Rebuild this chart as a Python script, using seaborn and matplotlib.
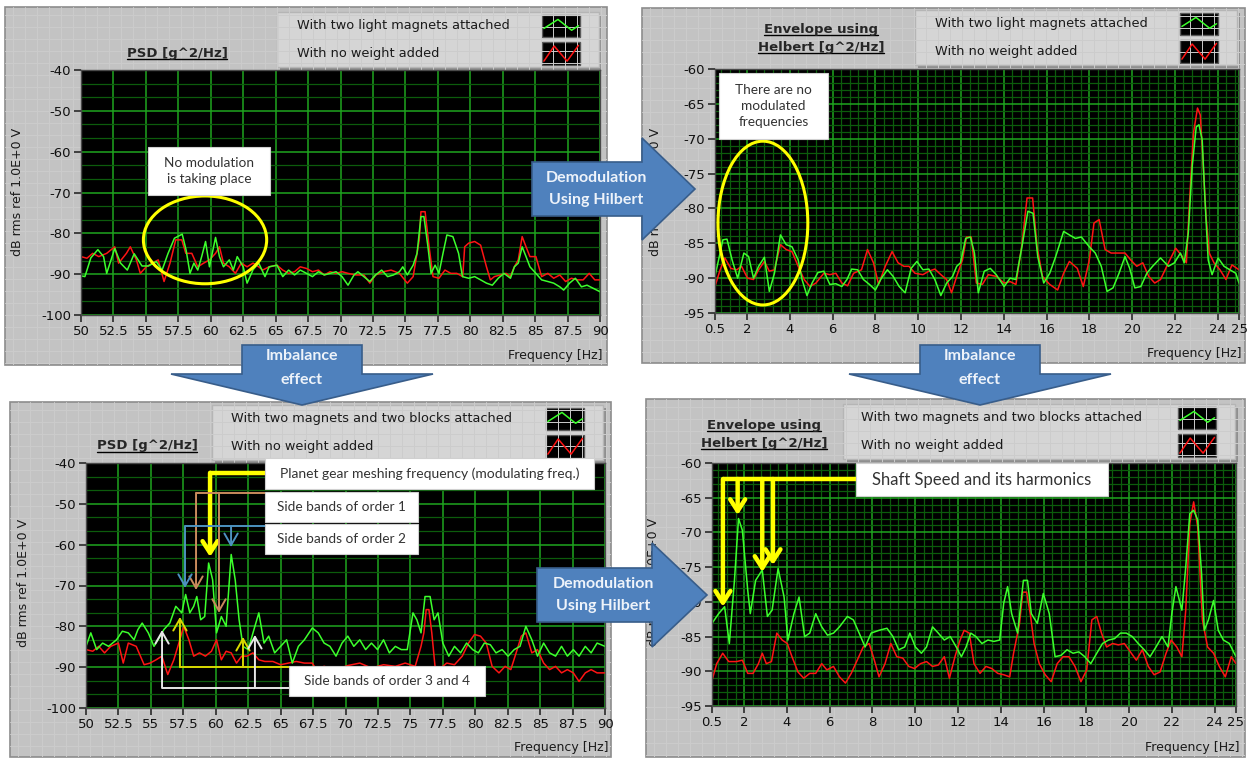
import matplotlib
matplotlib.use("Agg")
import matplotlib.pyplot as plt
import seaborn as sns
import pandas as pd
import numpy as np
from matplotlib.patches import Rectangle, Polygon, Ellipse

# ---------------- data (frequency [Hz], level [dB]) ----------------
# top-left: PSD, two light magnets vs no weight
p1_green = [(50.0, -90.4), (50.3, -90.6), (50.76, -86.0), (51.3, -84.0), (51.74, -85.7), (51.98, -89.8),
            (52.6, -83.7), (53.05, -87.3), (53.57, -89.0), (54.1, -85.0), (54.7, -88.0), (55.2, -88.0),
            (55.8, -86.9), (56.25, -89.0), (56.7, -85.0), (57.2, -81.2), (57.8, -80.2), (58.1, -84.1),
            (58.4, -89.8), (58.7, -87.3), (59.0, -89.0), (59.3, -85.7), (59.6, -82.0), (59.9, -88.2),
            (60.37, -81.0), (60.67, -85.7), (60.98, -88.2), (61.43, -86.5), (61.74, -89.0), (62.04, -85.7),
            (62.5, -88.2), (62.8, -92.2), (63.26, -88.9), (63.7, -87.3), (64.18, -90.6), (64.5, -88.2),
            (65.1, -87.8), (65.55, -90.6), (66.0, -89.0), (66.46, -90.2), (66.9, -89.0), (67.38, -89.8),
            (67.84, -90.6), (68.3, -89.4), (68.75, -90.2), (69.2, -89.8), (69.66, -89.4), (70.12, -90.6),
            (70.58, -92.7), (71.04, -90.2), (71.34, -89.4), (71.8, -90.6), (72.26, -91.8), (72.7, -90.2),
            (73.17, -89.0), (73.63, -90.6), (74.08, -90.2), (74.54, -89.4), (74.8, -88.2), (75.15, -90.2),
            (75.6, -87.8), (75.9, -84.9), (76.2, -75.9), (76.43, -75.9), (76.74, -83.3), (76.98, -89.8),
            (77.29, -87.8), (77.59, -89.8), (77.9, -84.9), (78.2, -80.4), (78.66, -80.8), (79.1, -84.9),
            (79.4, -90.6), (79.88, -91.0), (80.34, -90.6), (80.8, -91.4), (81.25, -92.2), (81.7, -92.7),
            (82.16, -91.0), (82.6, -89.8), (83.1, -91.0), (83.4, -88.2), (83.7, -87.3), (84.0, -83.3),
            (84.3, -85.7), (84.6, -88.2), (85.06, -89.8), (85.5, -91.4), (85.98, -91.8), (86.43, -92.2),
            (86.9, -93.1), (87.2, -93.9), (87.65, -92.2), (88.1, -91.0), (88.57, -93.1), (89.0, -92.7),
            (89.5, -93.5), (90.0, -94.3)]
p1_red = [(50.0, -85.7), (50.46, -86.1), (50.9, -84.9), (51.37, -85.7), (51.98, -84.9), (52.6, -83.3),
          (52.9, -87.3), (53.5, -84.9), (53.8, -83.3), (54.27, -86.5), (54.57, -89.8), (55.03, -88.2),
          (55.5, -87.3), (55.95, -86.5), (56.4, -91.8), (56.86, -87.3), (57.3, -81.6), (57.77, -81.6),
          (58.08, -84.9), (58.54, -84.9), (59.0, -88.2), (59.45, -87.3), (59.9, -86.5), (60.37, -84.9),
          (60.67, -83.3), (60.98, -87.3), (61.43, -88.2), (61.9, -89.8), (62.35, -87.3), (62.8, -88.2),
          (63.26, -87.3), (63.7, -88.2), (64.0, -89.0), (64.5, -88.2), (65.1, -87.8), (65.55, -89.0),
          (66.0, -89.8), (66.46, -89.4), (66.9, -88.2), (67.38, -88.6), (67.84, -89.4), (68.3, -89.0),
          (68.75, -90.2), (69.2, -89.4), (69.66, -89.8), (70.12, -89.4), (70.58, -89.8), (71.2, -90.2),
          (71.8, -90.2), (72.26, -92.2), (72.7, -90.2), (73.3, -89.4), (73.9, -89.0), (74.54, -89.8),
          (75.15, -92.2), (75.6, -90.6), (76.07, -81.6), (76.2, -74.7), (76.52, -74.7), (76.83, -83.3),
          (77.13, -90.6), (77.59, -91.0), (78.05, -89.0), (78.5, -89.8), (78.96, -89.8), (79.42, -90.6),
          (79.57, -83.3), (79.88, -82.4), (80.34, -82.0), (80.8, -82.9), (81.25, -88.2), (81.55, -91.4),
          (81.86, -90.6), (82.3, -90.2), (82.77, -89.8), (83.08, -90.6), (83.4, -88.2), (83.7, -86.5),
          (84.0, -80.8), (84.3, -83.3), (84.6, -85.7), (85.06, -85.7), (85.5, -90.6), (85.98, -89.8),
          (86.43, -91.0), (86.9, -90.2), (87.35, -91.8), (87.8, -91.0), (88.26, -91.4), (88.7, -91.4),
          (89.17, -89.8), (89.6, -91.4), (90.0, -91.4)]

# top-right: Hilbert envelope, two light magnets vs no weight
p2_green = [(0.5, -89.75), (0.87, -84.5), (1.06, -84.4), (1.3, -87.4), (1.56, -90.0), (1.85, -86.4),
            (2.07, -86.9), (2.3, -90.0), (2.54, -88.3), (2.81, -87.0), (3.04, -91.9), (3.28, -89.3),
            (3.56, -83.8), (3.83, -85.2), (4.1, -85.5), (4.39, -87.4), (4.57, -90.2), (4.8, -92.5),
            (5.04, -90.7), (5.31, -89.2), (5.59, -89.0), (5.87, -90.9), (6.15, -90.8), (6.43, -91.2),
            (6.67, -90.2), (6.89, -88.7), (7.17, -88.8), (7.44, -90.2), (7.72, -90.9), (8.0, -91.7),
            (8.28, -90.0), (8.56, -88.8), (8.83, -89.75), (9.11, -91.2), (9.39, -92.1), (9.67, -88.6),
            (9.94, -87.6), (10.22, -88.8), (10.5, -88.7), (10.78, -90.2), (11.06, -92.5), (11.33, -90.7),
            (11.61, -89.75), (11.8, -88.3), (11.98, -87.8), (12.22, -84.3), (12.44, -84.1), (12.63, -86.4),
            (12.81, -92.1), (13.09, -89.0), (13.37, -88.6), (13.65, -89.5), (14.02, -91.2), (14.3, -90.0),
            (14.57, -90.2), (14.85, -85.5), (15.13, -80.4), (15.37, -80.7), (15.59, -86.9), (15.87, -90.7),
            (16.15, -89.3), (16.43, -86.9), (16.8, -83.3), (17.07, -83.8), (17.35, -84.3), (17.63, -84.1),
            (18.0, -85.5), (18.28, -86.4), (18.56, -88.3), (18.83, -91.9), (19.11, -91.4), (19.39, -89.3),
            (19.67, -86.9), (19.89, -88.6), (20.13, -91.4), (20.41, -91.2), (20.69, -89.3), (20.96, -88.3),
            (21.33, -87.1), (21.7, -88.3), (21.98, -87.8), (22.26, -86.4), (22.44, -87.8), (22.63, -83.5),
            (22.81, -74.0), (23.0, -68.3), (23.13, -68.0), (23.28, -70.2), (23.41, -78.8), (23.56, -87.4),
            (23.74, -89.5), (24.02, -87.1), (24.3, -88.3), (24.57, -88.8), (24.85, -89.3), (25.0, -90.7)]
p2_red = [(0.5, -91.2), (0.74, -88.8), (0.96, -87.1), (1.24, -88.6), (1.52, -88.8), (1.74, -88.3),
          (2.02, -90.0), (2.3, -90.2), (2.54, -88.8), (2.81, -87.6), (3.04, -89.0), (3.28, -88.8),
          (3.56, -85.2), (3.83, -85.9), (4.1, -86.2), (4.39, -88.3), (4.67, -90.2), (4.94, -91.2),
          (5.22, -90.7), (5.59, -89.3), (5.87, -89.5), (6.15, -89.3), (6.43, -90.7), (6.7, -91.1),
          (6.98, -89.3), (7.35, -88.8), (7.63, -85.9), (7.91, -87.8), (8.15, -90.9), (8.46, -88.3),
          (8.78, -86.2), (9.06, -87.8), (9.33, -88.3), (9.57, -88.3), (9.85, -89.3), (10.22, -89.5),
          (10.5, -89.0), (10.78, -88.7), (11.06, -89.5), (11.33, -90.2), (11.56, -92.1), (11.8, -89.75),
          (12.07, -87.4), (12.26, -84.1), (12.48, -84.1), (12.72, -90.7), (13.0, -90.9), (13.28, -89.5),
          (13.65, -89.75), (14.02, -90.7), (14.3, -90.5), (14.57, -90.9), (14.85, -85.2), (15.09, -78.5),
          (15.35, -78.5), (15.56, -85.5), (15.81, -89.75), (16.15, -90.9), (16.52, -91.7), (16.8, -89.3),
          (17.07, -87.6), (17.44, -88.6), (17.72, -91.2), (18.0, -87.4), (18.22, -82.1), (18.46, -81.6),
          (18.74, -85.9), (19.02, -86.4), (19.3, -86.4), (19.67, -86.4), (19.94, -87.4), (20.22, -88.3),
          (20.5, -87.8), (20.78, -89.75), (21.06, -90.7), (21.33, -90.2), (21.7, -87.8), (22.04, -85.7),
          (22.35, -86.9), (22.54, -87.8), (22.69, -78.8), (22.87, -69.2), (23.06, -65.6), (23.19, -66.6),
          (23.33, -74.0), (23.46, -81.2), (23.61, -86.4), (23.83, -87.8), (24.11, -88.8), (24.39, -90.2),
          (24.67, -88.1), (25.0, -88.8)]

# bottom-left: PSD, two magnets and two blocks vs no weight
p3_green = [(50.0, -84.9), (50.37, -81.6), (50.82, -85.7), (51.28, -84.1), (51.74, -84.9), (52.35, -83.3),
            (52.8, -81.2), (53.26, -81.6), (53.7, -83.3), (54.0, -80.8), (54.33, -79.2), (54.8, -81.6),
            (55.24, -84.9), (55.55, -83.3), (56.0, -80.8), (56.46, -79.2), (56.92, -75.1), (57.38, -76.7),
            (57.68, -72.2), (58.0, -76.7), (58.3, -75.1), (58.54, -72.7), (58.84, -78.4), (59.15, -77.6),
            (59.45, -64.5), (59.76, -68.6), (60.06, -81.6), (60.43, -77.6), (60.8, -80.0), (61.19, -62.4),
            (61.5, -68.6), (61.8, -78.4), (62.1, -84.9), (62.5, -85.7), (62.87, -81.6), (63.32, -76.7),
            (63.72, -84.1), (64.08, -82.4), (64.54, -86.5), (65.0, -84.9), (65.46, -83.3), (65.9, -89.0),
            (66.37, -84.9), (66.83, -83.3), (67.44, -80.4), (67.9, -81.6), (68.35, -84.1), (68.8, -84.9),
            (69.27, -87.3), (69.73, -84.1), (70.18, -82.4), (70.64, -84.9), (71.1, -83.3), (71.55, -85.7),
            (72.0, -84.1), (72.47, -85.7), (72.93, -83.3), (73.38, -86.5), (73.84, -84.9), (74.3, -85.7),
            (74.76, -85.7), (75.2, -76.7), (75.5, -78.4), (75.82, -81.6), (76.13, -72.7), (76.52, -72.7),
            (76.83, -78.4), (77.13, -76.7), (77.5, -84.1), (77.96, -87.3), (78.4, -84.9), (78.87, -86.5),
            (79.33, -84.1), (79.8, -85.7), (80.24, -86.5), (80.7, -84.1), (81.16, -84.5), (81.6, -86.5),
            (82.07, -85.7), (82.53, -87.3), (83.0, -85.7), (83.45, -84.9), (83.9, -80.0), (84.36, -83.3),
            (84.8, -87.3), (85.27, -84.1), (85.73, -86.5), (86.19, -87.3), (86.65, -84.9), (87.1, -87.3),
            (87.56, -85.7), (88.0, -87.3), (88.48, -84.9), (88.93, -86.5), (89.39, -84.1), (90.0, -84.9)]
p3_red = [(50.0, -85.7), (50.52, -86.1), (50.98, -84.9), (51.43, -86.5), (51.9, -84.9), (52.5, -84.1),
          (52.87, -89.0), (53.26, -84.1), (53.87, -84.9), (54.48, -89.4), (54.94, -89.0), (55.4, -88.2),
          (55.85, -87.3), (56.3, -91.8), (56.77, -88.2), (57.23, -83.3), (57.53, -80.0), (57.93, -83.3),
          (58.3, -87.3), (58.75, -86.5), (59.2, -87.3), (59.67, -86.1), (60.06, -83.3), (60.43, -88.2),
          (60.8, -86.1), (61.19, -86.5), (61.6, -89.0), (62.0, -87.3), (62.4, -87.3), (62.87, -86.5),
          (63.32, -88.2), (63.78, -88.6), (64.4, -88.6), (65.0, -89.4), (65.6, -89.0), (66.2, -88.6),
          (66.83, -89.0), (67.44, -89.0), (67.74, -90.6), (68.35, -89.8), (69.27, -90.6), (70.18, -89.6),
          (71.1, -89.0), (72.0, -90.2), (72.93, -89.4), (73.84, -89.8), (74.6, -89.0), (75.37, -89.8),
          (75.82, -84.9), (76.04, -81.6), (76.22, -75.9), (76.43, -75.9), (76.65, -81.6), (76.9, -89.8),
          (77.35, -90.2), (77.8, -89.0), (78.4, -89.4), (79.0, -87.3), (79.48, -84.1), (79.94, -82.0),
          (80.4, -82.4), (80.85, -84.1), (81.3, -89.8), (81.83, -91.4), (82.3, -89.8), (82.74, -90.6),
          (83.15, -86.5), (83.55, -82.4), (83.9, -81.6), (84.36, -86.5), (84.8, -85.7), (85.27, -89.0),
          (85.73, -90.6), (86.19, -89.8), (86.65, -91.4), (87.1, -90.6), (87.56, -91.4), (88.0, -93.5),
          (88.48, -91.4), (88.93, -90.6), (89.39, -91.4), (90.0, -91.4)]

# bottom-right: Hilbert envelope, two magnets and two blocks vs no weight
p4_green = [(0.5, -83.1), (0.81, -81.7), (1.09, -80.7), (1.31, -86.0), (1.55, -76.9), (1.74, -68.0),
            (1.92, -69.7), (2.17, -78.3), (2.29, -81.7), (2.54, -76.9), (2.85, -75.4), (3.09, -82.1),
            (3.31, -81.2), (3.59, -75.2), (3.87, -79.3), (4.05, -85.5), (4.33, -81.7), (4.57, -79.3),
            (4.83, -85.0), (5.07, -84.5), (5.35, -81.7), (5.63, -83.6), (5.9, -84.8), (6.18, -84.5),
            (6.46, -83.6), (6.83, -82.1), (7.11, -82.6), (7.38, -84.5), (7.66, -86.5), (7.94, -84.5),
            (8.31, -84.1), (8.68, -83.8), (8.96, -85.0), (9.23, -86.9), (9.51, -86.5), (9.75, -84.5),
            (10.01, -86.5), (10.29, -87.4), (10.53, -86.5), (10.81, -83.6), (11.08, -84.5), (11.36, -85.5),
            (11.64, -85.0), (11.92, -86.5), (12.16, -87.9), (12.38, -86.5), (12.6, -84.5), (12.84, -85.0),
            (13.12, -86.0), (13.4, -85.5), (13.68, -85.7), (13.95, -85.5), (14.14, -80.2), (14.32, -77.8),
            (14.51, -81.7), (14.79, -84.5), (15.06, -76.9), (15.25, -76.9), (15.43, -81.7), (15.71, -83.1),
            (15.99, -78.8), (16.27, -81.7), (16.54, -87.9), (16.82, -87.7), (17.1, -86.9), (17.38, -87.4),
            (17.65, -87.2), (17.93, -87.9), (18.21, -88.9), (18.49, -87.4), (18.76, -86.0), (19.04, -85.5),
            (19.32, -85.3), (19.6, -84.5), (19.87, -84.5), (20.15, -85.0), (20.43, -86.0), (20.71, -86.9),
            (20.98, -87.9), (21.26, -86.5), (21.54, -85.0), (21.82, -86.5), (22.0, -81.7), (22.19, -77.8),
            (22.47, -81.2), (22.65, -75.0), (22.84, -67.3), (23.02, -66.8), (23.21, -68.2), (23.39, -75.9),
            (23.52, -84.1), (23.71, -82.6), (23.95, -79.8), (24.17, -84.1), (24.41, -85.5), (24.69, -86.0),
            (25.0, -87.9)]
p4_red = [(0.5, -91.3), (0.72, -88.9), (1.0, -87.4), (1.28, -88.6), (1.65, -88.6), (1.92, -88.4),
          (2.17, -90.3), (2.42, -90.3), (2.67, -88.9), (2.85, -87.4), (3.04, -88.9), (3.28, -88.6),
          (3.53, -84.5), (3.78, -85.5), (4.02, -86.0), (4.24, -87.9), (4.52, -90.1), (4.79, -91.0),
          (5.07, -90.3), (5.35, -90.3), (5.63, -88.9), (5.87, -89.8), (6.18, -89.3), (6.46, -90.8),
          (6.74, -91.7), (7.01, -90.3), (7.29, -88.4), (7.57, -86.5), (7.85, -86.0), (8.09, -88.4),
          (8.31, -90.8), (8.59, -88.9), (8.86, -86.0), (9.14, -87.9), (9.42, -88.1), (9.7, -89.3),
          (9.97, -89.6), (10.25, -88.9), (10.53, -88.6), (10.81, -89.3), (11.08, -89.1), (11.36, -87.9),
          (11.6, -91.0), (11.86, -87.9), (12.1, -85.5), (12.29, -84.1), (12.53, -84.5), (12.75, -88.9),
          (13.03, -90.3), (13.31, -89.3), (13.58, -89.6), (13.86, -90.3), (14.14, -90.5), (14.42, -90.8),
          (14.6, -87.4), (14.88, -83.1), (15.03, -78.6), (15.21, -78.6), (15.38, -81.7), (15.56, -86.0),
          (15.8, -88.9), (16.08, -90.5), (16.36, -91.5), (16.64, -88.9), (16.91, -87.9), (17.19, -87.9),
          (17.47, -89.3), (17.75, -91.5), (18.02, -89.8), (18.26, -82.6), (18.49, -82.1), (18.71, -84.5),
          (18.95, -86.5), (19.23, -86.0), (19.5, -86.2), (19.78, -86.0), (20.06, -87.2), (20.34, -88.4),
          (20.62, -86.9), (20.9, -89.3), (21.17, -90.5), (21.45, -90.1), (21.73, -87.4), (21.97, -85.5),
          (22.23, -86.5), (22.47, -87.9), (22.65, -81.2), (22.84, -68.7), (23.02, -65.6), (23.21, -69.2),
          (23.43, -82.6), (23.67, -86.5), (23.95, -87.4), (24.22, -89.3), (24.5, -90.8), (24.78, -87.9),
          (25.0, -88.9)]

psd_xticks = [50, 52.5, 55, 57.5, 60, 62.5, 65, 67.5, 70, 72.5, 75, 77.5, 80, 82.5, 85, 87.5, 90]
psd_xlabels = ["50", "52.5", "55", "57.5", "60", "62.5", "65", "67.5", "70", "72.5", "75", "77.5",
               "80", "82.5", "85", "87.5", "90"]
psd_yticks = [-100, -90, -80, -70, -60, -50, -40]
env_xticks = [0.5, 2, 4, 6, 8, 10, 12, 14, 16, 18, 20, 22, 24, 25]
env_xlabels = ["0.5", "2", "4", "6", "8", "10", "12", "14", "16", "18", "20", "22", "24", "25"]
env_yticks = [-95, -90, -85, -80, -75, -70, -65, -60]

legend_light = ["With two light magnets attached", "With no weight added"]
legend_blocks = ["With two magnets and two blocks attached", "With no weight added"]
ylab = "dB rms ref 1.0E+0 V"
title_psd = "PSD [g^2/Hz]"
title_env = ["Envelope using", "Helbert [g^2/Hz]"]

GREEN = "#3cff2c"
RED = "#ff1414"

# ---------------- layout ----------------
W, H = 1249, 759
sns.set_theme(style="ticks")
plt.rcParams['font.family'] = ['DejaVu Sans']

fig = plt.figure(figsize=(W / 100, H / 100), dpi=100)
fig.patch.set_facecolor("white")


def frac(x0, y0, x1, y1):
    return [x0 / W, 1 - y1 / H, (x1 - x0) / W, (y1 - y0) / H]


bg = fig.add_axes([0, 0, 1, 1], zorder=0)
bg.set_xlim(0, W)
bg.set_ylim(H, 0)
bg.axis("off")

top = fig.add_axes([0, 0, 1, 1], zorder=30)
top.set_xlim(0, W)
top.set_ylim(H, 0)
top.axis("off")


def draw_frame(x0, y0, x1, y1):
    r = Rectangle((x0, y0), x1 - x0, y1 - y0, fc="#c3c3c3", ec="#8c8c8c", lw=1.2)
    bg.add_patch(r)
    for gx in np.arange(x0 + 8, x1, 12):
        ln, = bg.plot([gx, gx], [y0, y1], color="#cccccc", lw=0.7)
        ln.set_clip_path(r)
    for gy in np.arange(y0 + 8, y1, 12):
        ln, = bg.plot([x0, x1], [gy, gy], color="#cccccc", lw=0.7)
        ln.set_clip_path(r)


def draw_legend(x0, y0, x1, y1, labels, text_x):
    bg.add_patch(Rectangle((x0 + 3, y0 + 3), x1 - x0, y1 - y0, fc="#8f8f8f", ec="none"))
    bg.add_patch(Rectangle((x0, y0), x1 - x0, y1 - y0, fc="#d5d5d5", ec="#b5b5b5", lw=1))
    zig = {GREEN: [(0.05, 0.62), (0.42, 0.22), (0.78, 0.7), (0.96, 0.5)],
           RED: [(0.05, 0.85), (0.32, 0.18), (0.66, 0.85), (0.96, 0.15)]}
    rh = (y1 - y0) / 2
    for i, (lab, col) in enumerate(zip(labels, [GREEN, RED])):
        cy = y0 + (i + 0.5) * rh
        bg.text(text_x, cy, lab, ha="left", va="center", fontsize=9.3, color="#1a1a1a")
        sx0, sw, sh = x1 - 57, 38, rh - 5
        bg.add_patch(Rectangle((sx0, cy - sh / 2), sw, sh, fc="black", ec="#5a5a5a", lw=1))
        pts = zig[col]
        bg.plot([sx0 + p[0] * sw for p in pts], [cy - sh / 2 + p[1] * sh for p in pts],
                color=col, lw=1.1)


def draw_panel(box, green, red, xlim, ylim, xticks, xlabels, yticks, xminor, yminor):
    ax = fig.add_axes(frac(*box), zorder=5)
    ax.set_facecolor("black")
    df = pd.concat([pd.DataFrame(red, columns=["freq", "db"]).assign(series="none"),
                    pd.DataFrame(green, columns=["freq", "db"]).assign(series="added")])
    sns.lineplot(data=df, x="freq", y="db", hue="series", hue_order=["none", "added"],
                 palette={"none": RED, "added": GREEN}, estimator=None, sort=False,
                 legend=False, lw=1.1, ax=ax)
    ax.set_xlim(*xlim)
    ax.set_ylim(*ylim)
    ax.set_xticks(xticks)
    ax.set_xticklabels(xlabels)
    ax.set_yticks(yticks)
    ax.set_yticklabels([str(v) for v in yticks])
    ax.set_xticks(xminor, minor=True)
    ax.set_yticks(yminor, minor=True)
    ax.set_xlabel("")
    ax.set_ylabel("")
    ax.set_axisbelow(True)
    ax.grid(which="major", color="#1fa51f", lw=1.1)
    ax.grid(which="minor", color="#0c5c0c", lw=0.9)
    ax.tick_params(axis="both", which="major", direction="out", length=5, width=1.2,
                   color="#2a2a2a", labelsize=9.5, labelcolor="#101010", pad=2)
    ax.tick_params(axis="both", which="minor", length=0)
    for s in ax.spines.values():
        s.set_color("#4a4a4a")
        s.set_linewidth(1)
    return ax


# frames
draw_frame(5, 7, 607, 365)
draw_frame(642, 8, 1245, 363)
draw_frame(10, 402, 611, 757)
draw_frame(646, 399, 1245, 757)

# legends
draw_legend(277, 12, 599, 67, legend_light, 297)
draw_legend(915, 10, 1237, 65, legend_light, 935)
draw_legend(212, 405, 603, 460, legend_blocks, 231)
draw_legend(843, 404, 1235, 459, legend_blocks, 861)

# titles (underlined later)
titles = [bg.text(177, 53, title_psd, ha="center", va="center", fontsize=9.5, fontweight="bold"),
          bg.text(821, 29, title_env[0], ha="center", va="center", fontsize=9.5, fontweight="bold"),
          bg.text(821, 47, title_env[1], ha="center", va="center", fontsize=9.5, fontweight="bold"),
          bg.text(147, 446, title_psd, ha="center", va="center", fontsize=9.5, fontweight="bold"),
          bg.text(764, 425, title_env[0], ha="center", va="center", fontsize=9.5, fontweight="bold"),
          bg.text(764, 443, title_env[1], ha="center", va="center", fontsize=9.5, fontweight="bold")]

# axis titles
for x, y in [(18, 192), (656, 192), (24, 583), (654, 582)]:
    bg.text(x, y, ylab, rotation=90, ha="center", va="center", fontsize=9, color="#1a1a1a")
for x, y in [(603, 355), (1242, 353), (609, 748), (1240, 747)]:
    bg.text(x, y, "Frequency [Hz]", ha="right", va="center", fontsize=9, color="#1a1a1a")

psd_yminor = np.arange(-100, -40, 10 / 3)
env_xminor = np.arange(0.8, 25, 0.4)
env_yminor = np.arange(-95, -60, 1)

ax1 = draw_panel((81, 70, 600, 315), p1_green, p1_red, (50, 90), (-100, -40),
                 psd_xticks, psd_xlabels, psd_yticks, [], psd_yminor)
ax2 = draw_panel((715, 69, 1239, 313), p2_green, p2_red, (0.5, 25), (-95, -60),
                 env_xticks, env_xlabels, env_yticks, env_xminor, env_yminor)
ax3 = draw_panel((86, 463, 605, 708), p3_green, p3_red, (50, 90), (-100, -40),
                 psd_xticks, psd_xlabels, psd_yticks, [], psd_yminor)
ax4 = draw_panel((712, 463, 1236, 706), p4_green, p4_red, (0.5, 25), (-95, -60),
                 env_xticks, env_xlabels, env_yticks, env_xminor, env_yminor)

# ---------------- annotations ----------------
YEL = "#ffff00"
ax1.add_patch(Ellipse((59.56, -81.6), 9.5, 21.5, fill=False, ec=YEL, lw=2.2, zorder=6))
ax2.add_patch(Ellipse((2.74, -82.1), 4.2, 23.5, fill=False, ec=YEL, lw=2.2, zorder=6))


def bracket(ax, x_from, y_line, legs, color, lw, head):
    # horizontal lead from the label box, then arrows down/up to the peaks
    xs = [l[0] for l in legs]
    ax.plot([x_from, min(xs)], [y_line, y_line], color=color, lw=lw, zorder=7,
            solid_capstyle="butt", clip_on=False)
    for x, y_tip in legs:
        ax.annotate("", xy=(x, y_tip), xytext=(x, y_line), zorder=7,
                    arrowprops=dict(arrowstyle=head, color=color, lw=lw,
                                    shrinkA=0, shrinkB=0, mutation_scale=12))


bracket(ax3, 63.8, -42.4, [(59.56, -63.0)], YEL, 3.2, "->,head_length=0.7,head_width=0.45")
bracket(ax3, 63.8, -47.3, [(58.48, -71.1), (60.25, -76.7)], "#c98a5c", 1.4, "->,head_length=0.7,head_width=0.4")
bracket(ax3, 63.8, -55.4, [(57.63, -70.6), (61.18, -60.6)], "#4d92c0", 1.4, "->,head_length=0.7,head_width=0.4")
bracket(ax3, 65.65, -90.0, [(57.24, -77.7), (62.1, -82.6)], "#d8d800", 1.4, "->,head_length=0.7,head_width=0.4")
bracket(ax3, 65.65, -95.1, [(55.86, -80.9), (63.02, -82.1)], "#e6e6e6", 1.4, "->,head_length=0.7,head_width=0.4")
bracket(ax4, 7.23, -62.3, [(1.01, -80.7), (1.7, -67.5), (2.85, -75.7), (3.35, -74.7)], YEL, 3.2,
        "->,head_length=0.7,head_width=0.45")

note_boxes = [((148, 147, 270, 195), "No modulation\nis taking place", 9.8),
              ((719, 73, 828, 139), "There are no\nmodulated\nfrequencies", 9.8),
              ((265, 458, 594, 489), "Planet gear meshing frequency (modulating freq.)", 10),
              ((265, 492, 418, 522), "Side bands of order 1", 9.8),
              ((265, 524, 418, 554), "Side bands of order 2", 9.8),
              ((289, 666, 485, 696), "Side bands of order 3 and 4", 9.8),
              ((856, 463, 1108, 496), "Shaft Speed and its harmonics", 12)]
for (x0, y0, x1, y1), txt, fs in note_boxes:
    top.add_patch(Rectangle((x0, y0), x1 - x0, y1 - y0, fc="white", ec="#d0d0d0", lw=0.8))
    top.text((x0 + x1) / 2, (y0 + y1) / 2, txt, ha="center", va="center", fontsize=fs,
             color="#333333", family="Lato", linespacing=1.35)

# block arrows
ARROW_FC, ARROW_EC = "#4f81bd", "#385d8a"


def arrow_right(x0, xh, xt, yc, bh, hh, lines):
    pts = [(x0, yc - bh), (xh, yc - bh), (xh, yc - hh), (xt, yc), (xh, yc + hh), (xh, yc + bh), (x0, yc + bh)]
    top.add_patch(Polygon(pts, closed=True, fc=ARROW_FC, ec=ARROW_EC, lw=1.2))
    cx = (x0 + xh) / 2 + 9
    top.text(cx, yc - 11, lines[0], ha="center", va="center", fontsize=11.5, fontweight="bold",
             color="#eef3fa", family="Lato")
    top.text(cx, yc + 11, lines[1], ha="center", va="center", fontsize=11.5, fontweight="bold",
             color="#eef3fa", family="Lato")


def arrow_down(xc, y0, yh, yt, bw, hw, lines):
    pts = [(xc - bw, y0), (xc + bw, y0), (xc + bw, yh), (xc + hw, yh), (xc, yt), (xc - hw, yh), (xc - bw, yh)]
    top.add_patch(Polygon(pts, closed=True, fc=ARROW_FC, ec=ARROW_EC, lw=1.2))
    top.text(xc, y0 + 11, lines[0], ha="center", va="center", fontsize=11.5, fontweight="bold",
             color="#eef3fa", family="Lato")
    top.text(xc, y0 + 35, lines[1], ha="center", va="center", fontsize=11.5, fontweight="bold",
             color="#eef3fa", family="Lato")


arrow_right(532, 642, 695, 189, 27, 51, ["Demodulation", "Using Hilbert"])
arrow_right(537, 652, 707, 595, 27, 52, ["Demodulation", "Using Hilbert"])
arrow_down(302, 345, 374, 405, 60, 131, ["Imbalance", "effect"])
arrow_down(980, 345, 374, 405, 60, 131, ["Imbalance", "effect"])

# underline the graph titles
fig.canvas.draw()
renderer = fig.canvas.get_renderer()
inv = bg.transData.inverted()
for t in titles:
    bb = t.get_window_extent(renderer)
    (ax0, ay0), (ax1_, ay1) = inv.transform([(bb.x0, bb.y0), (bb.x1, bb.y1)])
    yline = max(ay0, ay1) - 1
    bg.plot([ax0, ax1_], [yline, yline], color="black", lw=1)

fig.savefig("out.png", dpi=100)
